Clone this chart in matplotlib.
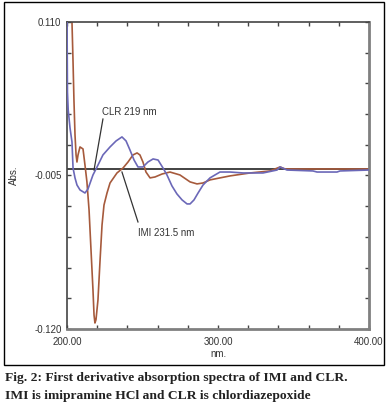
import matplotlib
matplotlib.use("Agg")
import matplotlib.pyplot as plt
from matplotlib.patches import Rectangle

# CLR (chlordiazepoxide) first-derivative spectrum
wl_clr = [200.0, 200.3, 200.8, 202.0, 203.3, 204.0, 205.3, 206.6, 208.6, 211.9, 213.9, 217.2,
          219.9, 223.8, 228.5, 232.5, 236.4, 239.1, 241.7, 244.4, 247.0, 250.3, 253.6, 257.0,
          260.3, 263.6, 266.2, 269.5, 272.8, 276.2, 279.5, 281.5, 284.1, 286.8, 290.1, 294.7,
          301.3, 308.0, 316.6, 329.8, 339.1, 341.1, 345.7, 362.9, 365.6, 378.8, 380.8, 400.0]
abs_clr = [0.115, 0.0576, 0.0441, 0.0306, 0.0201, 0.0006, -0.0068, -0.0121, -0.0158, -0.0181,
           -0.0151, -0.0046, 0.0014, 0.0104, 0.0164, 0.0209, 0.0239, 0.0209, 0.0141, 0.0066,
           0.0014, 0.0014, 0.0051, 0.0074, 0.0066, 0.0006, -0.0046, -0.0128, -0.0188, -0.0233,
           -0.0263, -0.0263, -0.0233, -0.0181, -0.0121, -0.0068, -0.0024, -0.0024, -0.0031,
           -0.0031, -0.0009, 0.0014, -0.0009, -0.0016, -0.0024, -0.0024, -0.0016, -0.0009]

# IMI (imipramine HCl) first-derivative spectrum
wl_imi = [203.0, 203.3, 204.0, 204.6, 205.3, 206.0, 206.6, 207.3, 208.6, 210.6, 211.9, 213.2,
          214.6, 215.9, 217.2, 217.9, 218.5, 219.2, 220.5, 221.9, 223.2, 224.5, 226.5, 228.5,
          233.1, 237.1, 240.4, 243.7, 246.4, 248.3, 250.3, 252.3, 255.0, 258.3, 262.9, 268.2,
          274.8, 281.5, 286.1, 290.1, 294.7, 301.3, 308.0, 321.2, 334.4, 341.1, 344.4, 400.0]
abs_imi = [0.125, 0.110, 0.080, 0.0516, 0.0254, 0.0104, 0.0051, 0.0104, 0.0164, 0.0149, 0.0029,
           -0.0098, -0.0308, -0.0608, -0.0907, -0.1095, -0.1155, -0.113, -0.0983, -0.0683,
           -0.0421, -0.0271, -0.0181, -0.0106, -0.0031, 0.0006, 0.0051, 0.0104, 0.0119, 0.0104,
           0.0051, -0.0024, -0.0068, -0.0061, -0.0039, -0.0024, -0.0046, -0.0098, -0.0113,
           -0.0106, -0.0083, -0.0068, -0.0053, -0.0031, -0.0016, 0.0014, -0.0001, -0.0001]

x_ticks = [200, 220, 240, 260, 280, 300, 320, 340, 360, 380, 400]
x_labels = ["200.00", "", "", "", "", "300.00", "", "", "", "", "400.00"]
y_ticks = [0.110, 0.087, 0.064, 0.041, 0.018, -0.005, -0.028, -0.051, -0.074, -0.097, -0.120]
y_labels = ["0.110", "", "", "", "", "-0.005", "", "", "", "", "-0.120"]

clr_label = "CLR 219 nm"
clr_text_xy = (223.2, 0.0426)
clr_point = (217.9, -0.0009)
clr_lead = (223.8, 0.0373)
imi_label = "IMI 231.5 nm"
imi_text_xy = (247.0, -0.048)
imi_point = (236.4, -0.0024)
imi_lead = (247.0, -0.0398)

fig = plt.figure(figsize=(3.87, 4.04), dpi=100)
ax = fig.add_axes([67/387, 75/404, 302/387, 307/404])

ax.axhline(0, color="#222222", lw=1.2, zorder=1)
ax.plot(wl_clr, abs_clr, color="#6b68b8", lw=1.2, zorder=3)
ax.plot(wl_imi, abs_imi, color="#a65a3c", lw=1.2, zorder=2)

ax.set_xlim(200, 400)
ax.set_ylim(-0.120, 0.110)
ax.set_xticks(x_ticks)
ax.set_xticklabels(x_labels)
ax.set_yticks(y_ticks)
ax.set_yticklabels(y_labels)

tf = dict(family="Liberation Sans", size=7, color="#333333")
for lab in ax.get_xticklabels() + ax.get_yticklabels():
    lab.set_fontfamily("Liberation Sans")
    lab.set_fontsize(7)
    lab.set_color("#333333")
ax.tick_params(direction="in", length=3, width=1, color="#444444",
               top=True, right=True, pad=4)
ax.tick_params(axis="x", pad=6)

for s in ["top", "left"]:
    ax.spines[s].set_color("#444444")
    ax.spines[s].set_linewidth(1.2)
for s in ["bottom", "right"]:
    ax.spines[s].set_color("#808080")
    ax.spines[s].set_linewidth(2.0)

ax.set_xlabel("nm.", **tf)
ax.xaxis.set_label_coords(0.5, -0.064)
ax.set_ylabel("Abs.", **tf)
ax.yaxis.set_label_coords(-0.158, 0.5)

ax.plot([clr_point[0], clr_lead[0]], [clr_point[1], clr_lead[1]], color="#333333", lw=0.9, zorder=4)
ax.text(clr_text_xy[0], clr_text_xy[1], clr_label, ha="left", va="center", **tf)
ax.plot([imi_point[0], imi_lead[0]], [imi_point[1], imi_lead[1]], color="#333333", lw=0.9, zorder=4)
ax.text(imi_text_xy[0], imi_text_xy[1], imi_label, ha="left", va="center", **tf)

fig.patches.append(Rectangle((4/387, 1 - 365/404), 380/387, 363/404, fill=False,
                             ec="black", lw=1, transform=fig.transFigure, figure=fig))

cap = dict(family="Liberation Serif", weight="bold", size=9.7, color="#222222", va="center", ha="left")
fig.text(5/387, 1 - 378/404, "Fig. 2: First derivative absorption spectra of IMI and CLR.", **cap)
fig.text(5/387, 1 - 396/404, "IMI is imipramine HCl and CLR is chlordiazepoxide", **cap)

fig.savefig("out.png", dpi=100)
